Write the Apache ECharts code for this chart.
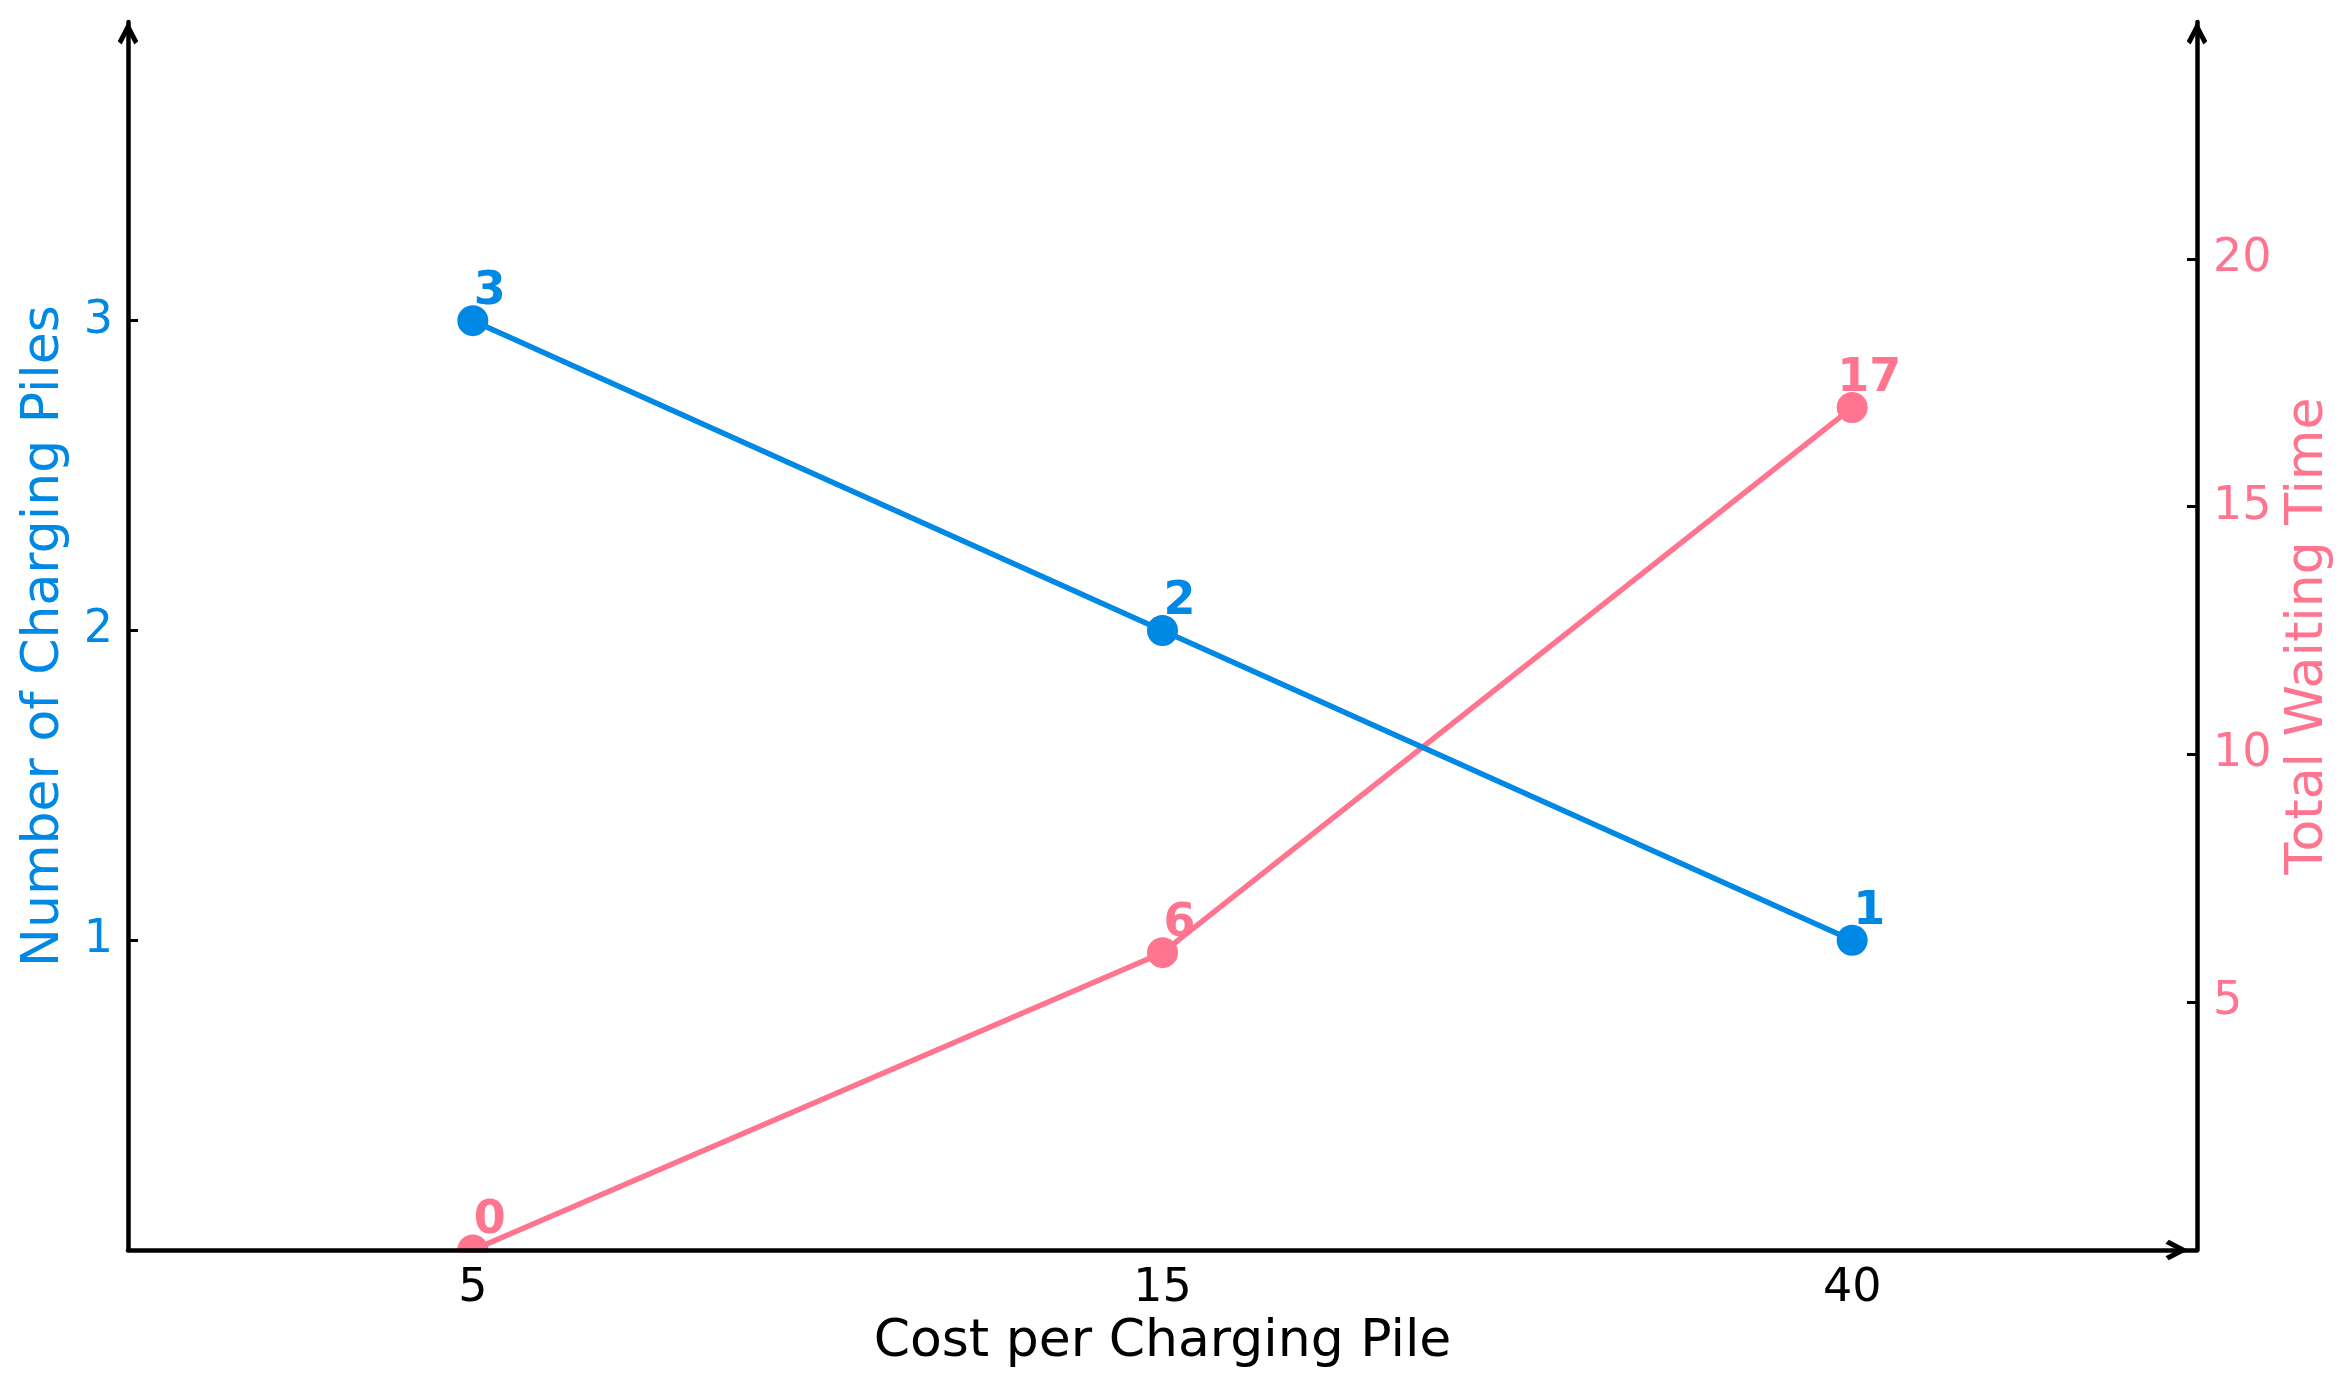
<!DOCTYPE html>
<html>
<head>
<meta charset="utf-8">
<script src="https://cdn.jsdelivr.net/npm/echarts@6/dist/echarts.min.js"></script>
<style>html,body{margin:0;padding:0;background:#fff}#c{width:2350px;height:1386px}</style>
</head>
<body>
<div id="c"></div>
<script>
const costs = ['5', '15', '40'];
const piles = [3, 2, 1];
const waiting = [0, 6, 17];
const pileTicks = [1, 2, 3];
const waitTicks = [5, 10, 15, 20];

const BLUE = '#0088e5';
const PINK = '#ff7590';
const FONT = 'DejaVu Sans';
const arrow = 'path://M0,9.6 L5,0 L10,9.6 L8.1,11.2 L5,5.2 L1.9,11.2 Z';
const ARROW_SIZE = [26, 23];

const chart = echarts.init(document.getElementById('c'), null, {renderer: 'canvas'});
chart.setOption({
  animation: false,
  backgroundColor: '#fff',
  textStyle: {fontFamily: FONT},
  grid: {left: 128, right: 153, top: 22, bottom: 136, containLabel: false},
  xAxis: {
    type: 'category',
    data: costs,
    boundaryGap: true,
    name: 'Cost per Charging Pile',
    nameLocation: 'middle',
    nameGap: 62,
    nameTextStyle: {fontSize: 52, color: '#000', fontFamily: FONT},
    axisLine: {show: true, lineStyle: {color: '#000', width: 4.5}, symbol: ['none', arrow], symbolSize: ARROW_SIZE, symbolOffset: [0, -20]},
    axisTick: {show: false},
    axisLabel: {fontSize: 46, color: '#000', margin: 16, fontFamily: FONT},
    splitLine: {show: false},
    z: 10
  },
  yAxis: [
    {
      type: 'value',
      position: 'left',
      min: 0,
      max: 3.964,
      name: 'Number of Charging Piles',
      nameLocation: 'middle',
      nameGap: 58,
      nameTextStyle: {fontSize: 52, color: BLUE, fontFamily: FONT},
      axisLine: {show: true, onZero: false, lineStyle: {color: '#000', width: 4.5}, symbol: ['none', arrow], symbolSize: ARROW_SIZE, symbolOffset: [0, -11]},
      axisTick: {show: true, inside: true, length: 10, lineStyle: {color: '#000', width: 3}, customValues: pileTicks},
      axisLabel: {fontSize: 46, color: BLUE, margin: 15, fontFamily: FONT, customValues: pileTicks},
      splitLine: {show: false}
    },
    {
      type: 'value',
      position: 'right',
      min: 0,
      max: 24.78,
      name: 'Total Waiting Time',
      nameLocation: 'middle',
      nameGap: 80,
      nameTextStyle: {fontSize: 52, color: PINK, fontFamily: FONT},
      axisLine: {show: true, onZero: false, lineStyle: {color: '#000', width: 4.5}, symbol: ['none', arrow], symbolSize: ARROW_SIZE, symbolOffset: [0, -11]},
      axisTick: {show: true, inside: true, length: 10, lineStyle: {color: '#000', width: 3}, customValues: waitTicks},
      axisLabel: {fontSize: 46, color: PINK, margin: 16, fontFamily: FONT, customValues: waitTicks},
      splitLine: {show: false}
    }
  ],
  series: [
    {
      type: 'line',
      yAxisIndex: 0,
      data: piles,
      color: BLUE,
      lineStyle: {width: 5.5, color: BLUE},
      symbol: 'circle',
      symbolSize: 31,
      itemStyle: {color: BLUE},
      label: {show: true, position: 'top', distance: 2, offset: [17, 12], fontSize: 46, fontWeight: 'bold', color: BLUE, fontFamily: FONT},
      z: 3
    },
    {
      type: 'line',
      yAxisIndex: 1,
      data: waiting,
      color: PINK,
      lineStyle: {width: 5.5, color: PINK},
      symbol: 'circle',
      symbolSize: 31,
      itemStyle: {color: PINK},
      label: {show: true, position: 'top', distance: 2, offset: [17, 12], fontSize: 46, fontWeight: 'bold', color: PINK, fontFamily: FONT},
      z: 2
    }
  ]
});

// mask the part of the markers that falls below the plot area (the reference clips them at the x axis)
const grid = chart.getModel().getComponent('grid').coordinateSystem.getRect();
chart.setOption({
  graphic: [{
    type: 'rect',
    shape: {x: grid.x - 2, y: grid.y + grid.height + 2.5, width: grid.width + 4, height: 14},
    style: {fill: '#fff'},
    z: 5
  }]
});
</script>
</body>
</html>
